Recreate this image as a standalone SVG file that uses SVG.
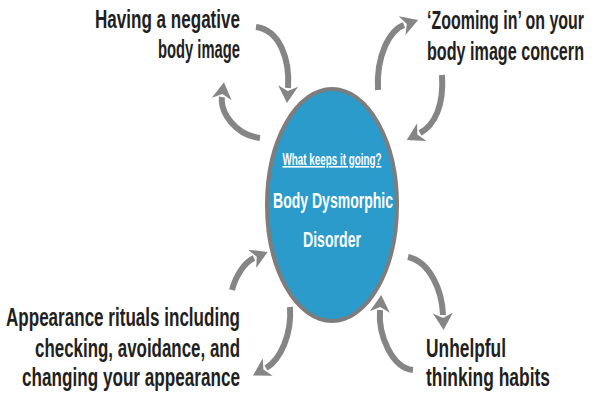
<svg xmlns="http://www.w3.org/2000/svg" width="600" height="400" viewBox="0 0 600 400">
<defs>
<style>
.lbl{font-family:"Liberation Sans",Arial,sans-serif;font-weight:bold;font-size:25px;fill:#231f20}
.c{font-family:"Liberation Sans",Arial,sans-serif;font-weight:bold;fill:#ffffff;text-anchor:middle}
.arr{fill:none;stroke:#858585;stroke-width:6;marker-end:url(#ah)}
</style>
<marker id="ah" markerUnits="userSpaceOnUse" markerWidth="22" markerHeight="24" refX="2" refY="11" orient="auto" viewBox="0 0 22 22">
<path d="M0,1 L17,11 L0,21 L5,11 Z" fill="#858585"/>
</marker>
</defs>
<rect width="600" height="400" fill="#ffffff"/>
<g id="center">
<ellipse cx="332" cy="205" rx="65" ry="116" fill="#2a9bcb" stroke="#7d7d7d" stroke-width="4"/>
<text class="c" x="332" y="165" font-size="16" textLength="99" lengthAdjust="spacingAndGlyphs" text-decoration="underline">What keeps it going?</text>
<text class="c" x="333" y="208" font-size="22" textLength="120" lengthAdjust="spacingAndGlyphs">Body Dysmorphic</text>
<text class="c" x="332" y="247" font-size="22" textLength="58" lengthAdjust="spacingAndGlyphs">Disorder</text>
</g>
<g id="negative">
<text class="lbl" x="240" y="28" text-anchor="end" textLength="145" lengthAdjust="spacingAndGlyphs">Having a negative</text>
<text class="lbl" x="240" y="58" text-anchor="end" textLength="82" lengthAdjust="spacingAndGlyphs">body image</text>
</g>
<g id="zooming">
<text class="lbl" x="584" y="29" text-anchor="end" textLength="157" lengthAdjust="spacingAndGlyphs">‘Zooming in’ on your</text>
<text class="lbl" x="584" y="60" text-anchor="end" textLength="157" lengthAdjust="spacingAndGlyphs">body image concern</text>
</g>
<g id="rituals">
<text class="lbl" x="240" y="326" text-anchor="end" textLength="234" lengthAdjust="spacingAndGlyphs">Appearance rituals including</text>
<text class="lbl" x="240" y="357" text-anchor="end" textLength="205" lengthAdjust="spacingAndGlyphs">checking, avoidance, and</text>
<text class="lbl" x="240" y="386" text-anchor="end" textLength="218" lengthAdjust="spacingAndGlyphs">changing your appearance</text>
</g>
<g id="habits">
<text class="lbl" x="506" y="357" text-anchor="end" textLength="80" lengthAdjust="spacingAndGlyphs">Unhelpful</text>
<text class="lbl" x="550" y="386" text-anchor="end" textLength="124" lengthAdjust="spacingAndGlyphs">thinking habits</text>
</g>
<g id="connectors">
<path class="arr" d="M256,27 C280,30 290,60 288,88"/>
<path class="arr" d="M260,138 C235,135 220,112 222,97"/>
<path class="arr" d="M378,90 C376,55 390,30 404,25"/>
<path class="arr" d="M442,75 C444,105 435,125 420,133"/>
<path class="arr" d="M232,290 C236,275 245,262 254,258"/>
<path class="arr" d="M290,307 C292,335 280,360 266,368"/>
<path class="arr" d="M408,257 C430,262 442,290 443,315"/>
<path class="arr" d="M413,370 C392,368 378,335 380,310"/>
</g>
</svg>
